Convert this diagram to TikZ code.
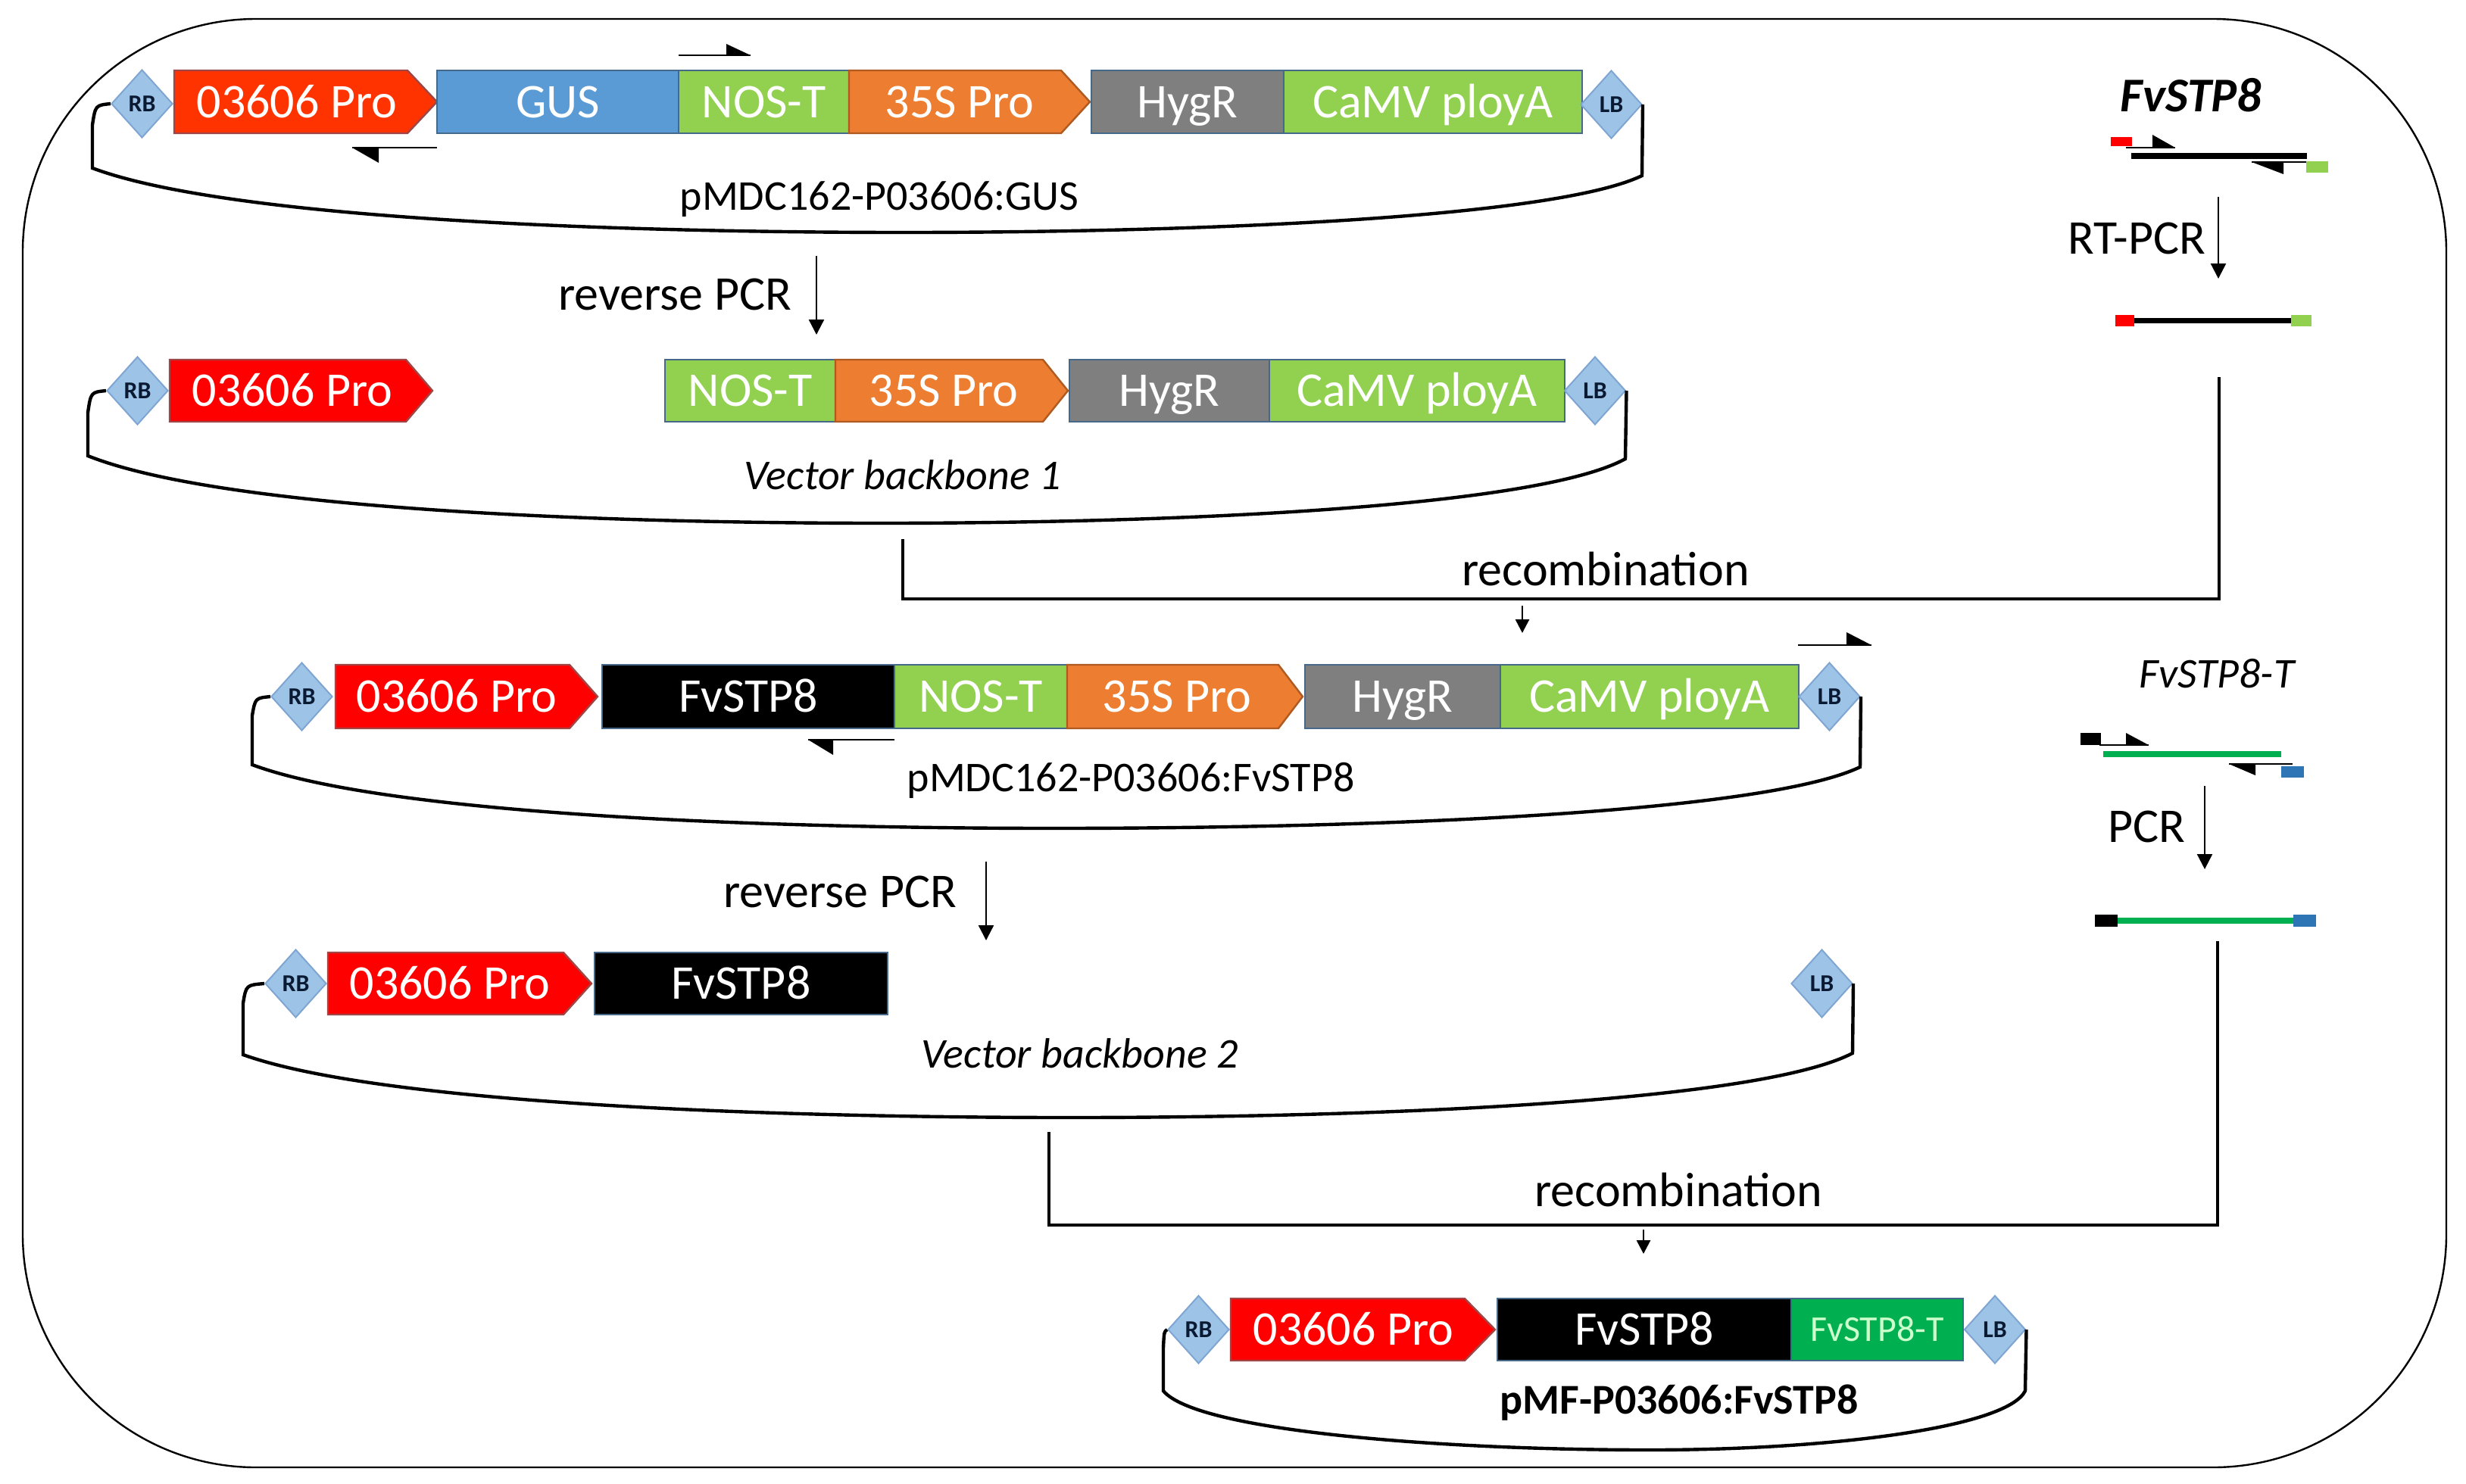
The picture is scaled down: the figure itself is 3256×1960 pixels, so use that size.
\documentclass[tikz,border=0pt]{standalone}
\usepackage{fontspec}
\setmainfont{Carlito}
\usepackage{tikz}
\usetikzlibrary{shapes.geometric}
\usetikzlibrary{arrows.meta}

\definecolor{proorange}{HTML}{FF3300}
\definecolor{prored}{HTML}{FF0000}
\definecolor{proline}{HTML}{A04545}
\definecolor{boxline}{HTML}{46698A}
\definecolor{gusblue}{HTML}{5B9BD5}
\definecolor{nosgreen}{HTML}{92D050}
\definecolor{s35orange}{HTML}{ED7D31}
\definecolor{s35line}{HTML}{AE5A21}
\definecolor{hyggrey}{HTML}{7F7F7F}
\definecolor{stpgreen}{HTML}{00B050}
\definecolor{stpttext}{HTML}{CCFFCC}
\definecolor{tdnafill}{HTML}{9DC3E6}
\definecolor{tdnaline}{HTML}{7FA6D2}
\definecolor{tdnatext}{HTML}{0B1A33}
\definecolor{endblue}{HTML}{2E75B6}

\begin{document}
\begin{tikzpicture}[x=0.25pt,y=0.25pt,yscale=-1,xscale=1,
  genebox/.style={draw=boxline, line width=0.6pt},
  genetxt/.style={text=white, font=\fontsize{16}{19}\selectfont, inner sep=0pt, text height=10.3pt, text depth=0pt},
  tdna/.style={diamond, draw=tdnaline, fill=tdnafill, line width=0.5pt, minimum width=20.25pt, minimum height=22.5pt, inner sep=0pt, text=tdnatext, font=\bfseries\fontsize{8}{9}\selectfont},
  backbone/.style={line width=1.1pt},
  joinline/.style={line width=1pt},
  proc/.style={line width=0.6pt, -{Triangle[width=5pt,length=5pt]}},
  recarrow/.style={line width=0.7pt, -{Triangle[width=4.5pt,length=4.5pt]}},
  primer/.style={line width=0.5pt},
  steplabel/.style={font=\fontsize{16}{19}\selectfont, inner sep=0pt, anchor=base},
  vectlabel/.style={font=\fontsize{14}{17}\selectfont, inner sep=0pt, anchor=base}]
\useasboundingbox (0,0) rectangle (3256,1960);

%Shape: Rounded Rectangle [frame]
\draw [line width=0.6pt, rounded corners=77pt] (30,25) rectangle (3230,1938);

%%%%%% pMDC162-P03606:GUS
\node [tdna] (rb1) at (187.5,137) {RB};
\draw [genebox, draw=proline, fill=proorange] (230,93) -- (538,93) -- (577,134.5) -- (538,176) -- (230,176) -- cycle;
\node [genetxt] (pro1) at (392,134.5) {03606 Pro};
\draw [genebox, fill=gusblue] (577,93) rectangle (896,176);
\node [genetxt] (gus1) at (736.5,134.5) {GUS};
\draw [genebox, fill=nosgreen] (896,93) rectangle (1121,176);
\node [genetxt] (nos1) at (1008.5,134.5) {NOS-T};
\draw [genebox, draw=s35line, fill=s35orange] (1121,93) -- (1401,93) -- (1439,134.5) -- (1401,176) -- (1121,176) -- cycle;
\node [genetxt] (ss1) at (1267,134.5) {35S Pro};
\draw [genebox, fill=hyggrey] (1441,93) rectangle (1695,176);
\node [genetxt] (hyg1) at (1568,134.5) {HygR};
\draw [genebox, fill=nosgreen] (1695,93) rectangle (2089,176);
\node [genetxt] (camv1) at (1892,134.5) {CaMV ployA};
\node [tdna] (lb1) at (2127.5,138) {LB};

%Curve Lines [backbone 1]
\draw [backbone] (rb1.west) .. controls (126,139) .. (122,165) -- (122,222) .. controls (304,290) and (819,307) .. (1194,307) .. controls (1582,307) and (2051,288) .. (2168,232) -- (lb1.east);

%Primers on GUS vector
\draw [primer] (896,73) -- (991,73);
\fill (959,58) -- (991,73) -- (959,73) -- cycle;
\draw [primer] (465,195) -- (577,195);
\fill (465,195) -- (500,195) -- (500,215) -- cycle;

% Text Node
\node [vectlabel] (gusvec) at (1161,277) {pMDC162-P03606:GUS};

%%%%%% reverse PCR 1
\node [steplabel] (rpcr1) at (891,409) {reverse PCR};
\coordinate (rpcr1top) at (1078,338);
\coordinate (rpcr1bot) at (1078,442);
\draw [proc] (rpcr1top) -- (rpcr1bot);

%%%%%% Vector backbone 1
\node [tdna] (rb2) at (181.5,516) {RB};
\draw [genebox, draw=proline, fill=prored] (224,475) -- (536,475) -- (571,516) -- (536,557) -- (224,557) -- cycle;
\node [genetxt] (pro2) at (386,516) {03606 Pro};
\draw [genebox, fill=nosgreen] (878,475) rectangle (1103,557);
\node [genetxt] (nos2) at (990.5,516) {NOS-T};
\draw [genebox, draw=s35line, fill=s35orange] (1103,475) -- (1377,475) -- (1410,516) -- (1377,557) -- (1103,557) -- cycle;
\node [genetxt] (ss2) at (1246,516) {35S Pro};
\draw [genebox, fill=hyggrey] (1412,475) rectangle (1676,557);
\node [genetxt] (hyg2) at (1544,516) {HygR};
\draw [genebox, fill=nosgreen] (1676,475) rectangle (2066,557);
\node [genetxt] (camv2) at (1871,516) {CaMV ployA};
\node [tdna] (lb2) at (2106,516) {LB};

%Curve Lines [backbone 2]
\draw [backbone] (rb2.west) .. controls (120,518) .. (116,545) -- (116,602) .. controls (294,673) and (797,691) .. (1163,691) .. controls (1555,691) and (2029,670) .. (2146,606) -- (lb2.east);

% Text Node
\node [vectlabel, font=\itshape\fontsize{14}{17}\selectfont] (vb1) at (1192,646) {Vector backbone 1};

%%%%%% FvSTP8 by RT-PCR
\node [anchor=base, inner sep=0pt, font=\bfseries\itshape\fontsize{16}{19}\selectfont] (stp8lbl) at (2893,147) {FvSTP8};
\draw [line width=2pt] (2814,206) -- (3046,206);
\fill [prored] (2787,181) rectangle (2815,193);
\draw [primer] (2807,195) -- (2872,195);
\fill (2842,178) -- (2872,195) -- (2842,195) -- cycle;
\draw [primer] (2973,214) -- (3062,214);
\fill (2973,214) -- (3015,214) -- (3015,230) -- cycle;
\fill [nosgreen] (3045,213) rectangle (3074,228);

\node [steplabel] (rtpcr) at (2821,335) {RT-PCR};
\coordinate (rtpcrtop) at (2929,260);
\coordinate (rtpcrbot) at (2929,368);
\draw [proc] (rtpcrtop) -- (rtpcrbot);

\fill [prored] (2793,416) rectangle (2818,431);
\draw [line width=1.9pt] (2818,423.5) -- (3027,423.5);
\fill [nosgreen] (3025,416) rectangle (3052,431);

%%%%%% recombination 1
\coordinate (bb2out) at (1192,712);
\coordinate (rtprod) at (2930,498);
\coordinate (join1) at (2930,791);
\draw [joinline] (bb2out) |- (join1) -- (rtprod);
\node [steplabel] (rec1) at (2120,773) {recombination};
\coordinate (rec1top) at (2010,800);
\coordinate (rec1bot) at (2010,836);
\draw [recarrow] (rec1top) -- (rec1bot);

%%%%%% pMDC162-P03606:FvSTP8
\node [tdna] (rb3) at (398.5,920) {RB};
\draw [genebox, draw=proline, fill=prored] (443,878) -- (752,878) -- (789,920) -- (752,962) -- (443,962) -- cycle;
\node [genetxt] (pro3) at (603,920) {03606 Pro};
\draw [genebox, fill=black] (795,878) rectangle (1181,962);
\node [genetxt] (stp3) at (988,920) {FvSTP8};
\draw [genebox, fill=nosgreen] (1181,878) rectangle (1409,962);
\node [genetxt] (nos3) at (1295,920) {NOS-T};
\draw [genebox, draw=s35line, fill=s35orange] (1409,878) -- (1688,878) -- (1720,920) -- (1688,962) -- (1409,962) -- cycle;
\node [genetxt] (ss3) at (1554,920) {35S Pro};
\draw [genebox, fill=hyggrey] (1723,878) rectangle (1981,962);
\node [genetxt] (hyg3) at (1852,920) {HygR};
\draw [genebox, fill=nosgreen] (1981,878) rectangle (2375,962);
\node [genetxt] (camv3) at (2178,920) {CaMV ployA};
\node [tdna] (lb3) at (2415.5,920) {LB};

%Curve Lines [backbone 3]
\draw [backbone] (rb3.west) .. controls (337,922) .. (333,945) -- (333,1010) .. controls (513,1077) and (1021,1094) .. (1391,1094) .. controls (1816,1094) and (2328,1074) .. (2456,1013) -- (lb3.east);

%Primers on FvSTP8 vector
\draw [primer] (2374,852) -- (2471,852);
\fill (2438,835) -- (2471,852) -- (2438,852) -- cycle;
\draw [primer] (1067,977) -- (1181,977);
\fill (1067,977) -- (1100,977) -- (1100,997) -- cycle;

% Text Node
\node [vectlabel] (stpvec) at (1493,1045) {pMDC162-P03606:FvSTP8};

%%%%%% reverse PCR 2
\node [steplabel] (rpcr2) at (1109,1198) {reverse PCR};
\coordinate (rpcr2top) at (1302,1138);
\coordinate (rpcr2bot) at (1302,1242);
\draw [proc] (rpcr2top) -- (rpcr2bot);

%%%%%% Vector backbone 2
\node [tdna] (rb4) at (390.5,1299) {RB};
\draw [genebox, draw=proline, fill=prored] (433,1258) -- (744,1258) -- (781,1299) -- (744,1340) -- (433,1340) -- cycle;
\node [genetxt] (pro4) at (594,1299) {03606 Pro};
\draw [genebox, fill=black] (785,1258) rectangle (1172,1340);
\node [genetxt] (stp4) at (978.5,1299) {FvSTP8};
\node [tdna] (lb4) at (2405.5,1299) {LB};

%Curve Lines [backbone 4]
\draw [backbone] (rb4.west) .. controls (325,1301) .. (321,1325) -- (321,1393) .. controls (506,1459) and (1030,1476) .. (1412,1476) .. controls (1826,1476) and (2322,1455) .. (2446,1391) -- (lb4.east);

% Text Node
\node [vectlabel, font=\itshape\fontsize{14}{17}\selectfont] (vb2) at (1426,1410) {Vector backbone 2};

%%%%%% FvSTP8-T by PCR
\node [anchor=base, inner sep=0pt, font=\itshape\fontsize{14}{17}\selectfont] (stptlbl) at (2927,908) {FvSTP8-T};
\fill (2747,968) rectangle (2774,984);
\draw [primer] (2772,984) -- (2837,984);
\fill (2807,968) -- (2837,984) -- (2807,984) -- cycle;
\draw [line width=1.8pt, stpgreen] (2777,996) -- (3012,996);
\draw [primer] (2943,1009) -- (3027,1009);
\fill (2943,1009) -- (2978,1009) -- (2978,1024) -- cycle;
\fill [endblue] (3012,1012) rectangle (3042,1027);

\node [steplabel] (pcr) at (2834,1112) {PCR};
\coordinate (pcrtop) at (2911,1038);
\coordinate (pcrbot) at (2911,1148);
\draw [proc] (pcrtop) -- (pcrbot);

\fill (2766,1208) rectangle (2796,1224);
\draw [line width=1.9pt, stpgreen] (2796,1216) -- (3028,1216);
\fill [endblue] (3028,1208) rectangle (3058,1224);

%%%%%% recombination 2
\coordinate (bb4out) at (1385,1495);
\coordinate (pcrprod) at (2928,1243);
\coordinate (join2) at (2928,1618);
\draw [joinline] (bb4out) |- (join2) -- (pcrprod);
\node [steplabel] (rec2) at (2216,1593) {recombination};
\coordinate (rec2top) at (2170,1624);
\coordinate (rec2bot) at (2170,1656);
\draw [recarrow] (rec2top) -- (rec2bot);

%%%%%% pMF-P03606:FvSTP8
\node [tdna] (rb5) at (1582.5,1756) {RB};
\draw [genebox, draw=proline, fill=prored] (1625,1715) -- (1934,1715) -- (1974,1756) -- (1934,1797) -- (1625,1797) -- cycle;
\node [genetxt] (pro5) at (1787,1756) {03606 Pro};
\draw [genebox, fill=black] (1977,1715) rectangle (2365,1797);
\node [genetxt] (stp5) at (2171,1756) {FvSTP8};
\draw [genebox, fill=stpgreen] (2365,1715) rectangle (2592,1797);
\node [genetxt, text=stpttext, font=\fontsize{12}{14}\selectfont, text height=7.7pt] (stpt5) at (2478.5,1756) {FvSTP8-T};
\node [tdna] (lb5) at (2634,1756) {LB};

%Curve Lines [backbone 5]
\draw [backbone] (rb5.west) .. controls (1537,1759) .. (1536,1780) -- (1536,1837) .. controls (1580,1890) and (1900,1915) .. (2178,1915) .. controls (2420,1915) and (2650,1885) .. (2674,1837) -- (lb5.east);

% Text Node
\node [vectlabel, font=\bfseries\fontsize{14}{17}\selectfont] (finvec) at (2217,1867) {pMF-P03606:FvSTP8};

\end{tikzpicture}
\end{document}
